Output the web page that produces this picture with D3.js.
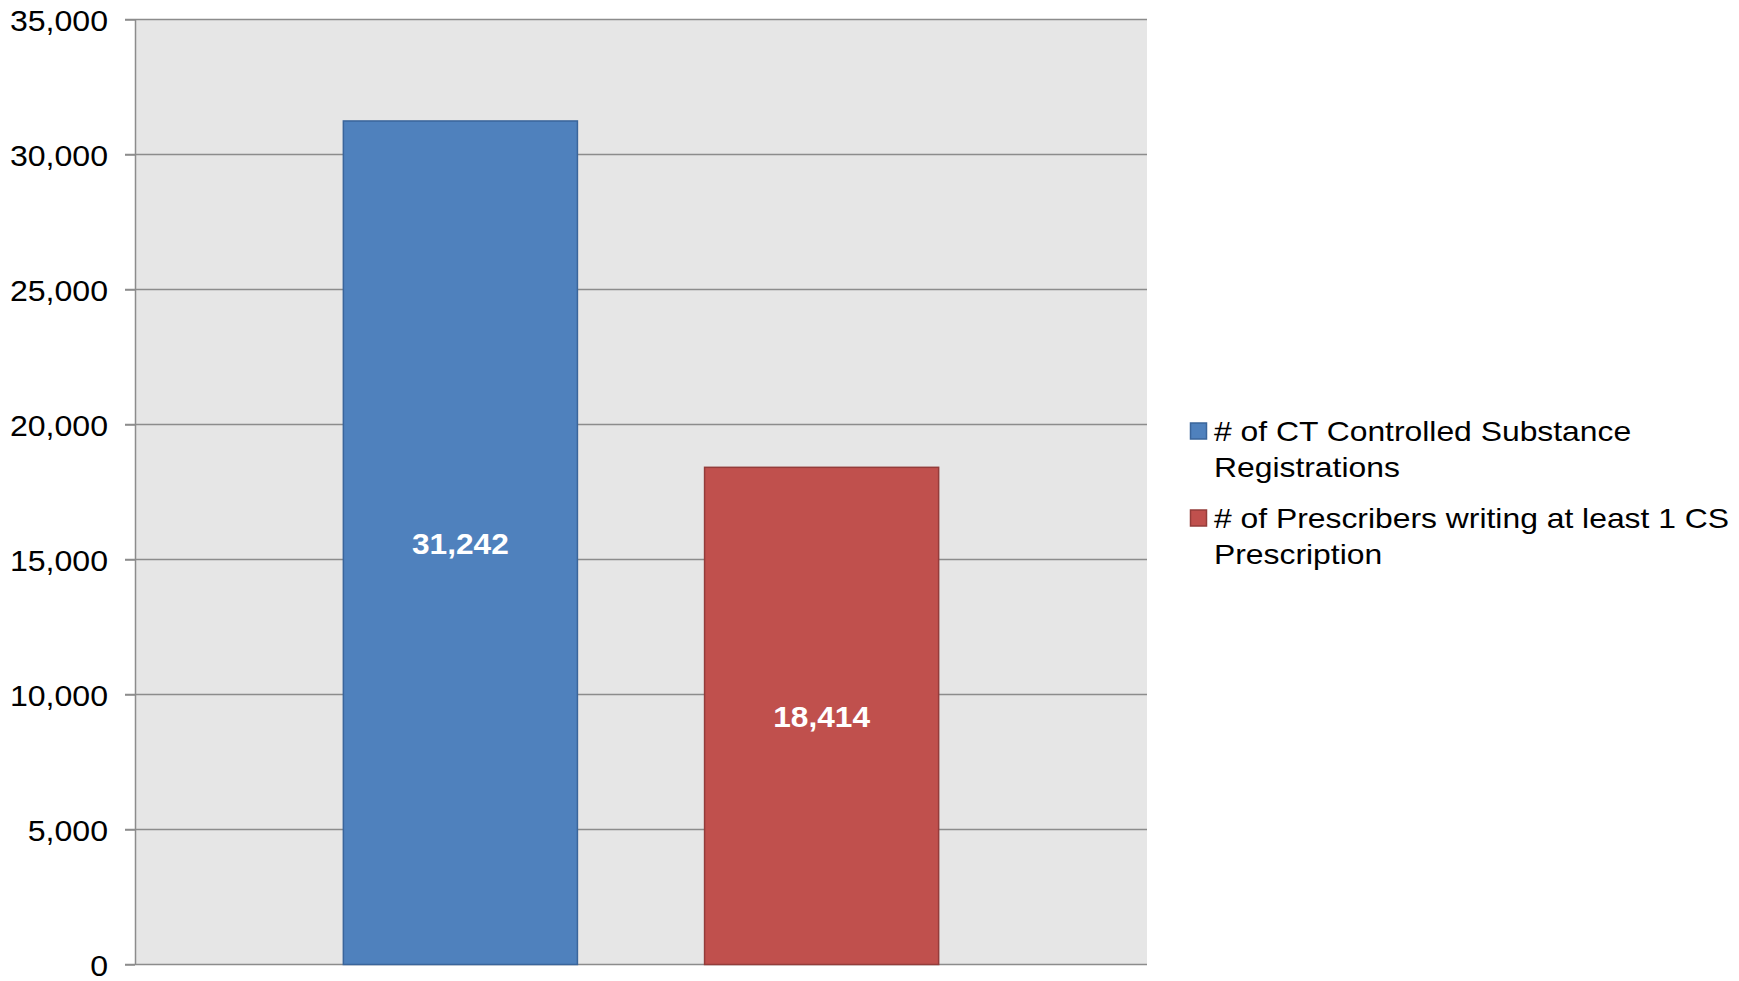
<!DOCTYPE html>
<html>
<head>
<meta charset="utf-8">
<script src="https://cdn.jsdelivr.net/npm/d3@7"></script>
<style>
  body { margin: 0; background: #fff; }
  text { font-family: "Liberation Sans", Arial, sans-serif; }
</style>
</head>
<body>
<div id="chart"></div>
<script>
// data
var categories = ["CT"];
var seriesNames = [
    "# of CT Controlled Substance Registrations",
    "# of Prescribers writing at least 1 CS Prescription"
];
var seriesValues = [31242, 18414];
var seriesColors = ["#4f81bd", "#c0504d"];
var seriesStrokes = ["#3a659b", "#943c3a"];
var legendLines = [
    ["# of CT Controlled Substance", "Registrations"],
    ["# of Prescribers writing at least 1 CS", "Prescription"]
];
var yTicks = [0, 5000, 10000, 15000, 20000, 25000, 30000, 35000];

var margin = { top: 19.5, right: 592, bottom: 16.5, left: 135 },
    width = 1739 - margin.left - margin.right,
    height = 981 - margin.top - margin.bottom;

var svg = d3
    .select("#chart")
    .append("svg")
    .attr("width", 1739)
    .attr("height", 981)
    .append("g")
    .attr("transform", "translate(" + margin.left + "," + margin.top + ")");

// plot background
svg.append("rect")
    .attr("width", width)
    .attr("height", height)
    .style("fill", "#e6e6e6");

var y = d3.scaleLinear().domain([0, 35000]).range([height, 0]);

var x0 = d3.scaleBand().domain(categories).range([0, width]).paddingInner(0).paddingOuter(0.35);
var x1 = d3.scaleBand().domain(seriesNames).range([0, x0.bandwidth()]).paddingInner(0.352).paddingOuter(0);

// gridlines
svg.append("g")
    .selectAll("line")
    .data(yTicks)
    .enter()
    .append("line")
    .attr("x1", -10)
    .attr("x2", width)
    .attr("y1", (d) => y(d))
    .attr("y2", (d) => y(d))
    .style("stroke", "#8c8c8c")
    .style("stroke-width", 1.5);

// y axis (reference text is slightly stretched horizontally)
var yAxis = svg.append("g")
    .call(d3.axisLeft(y).tickValues(yTicks).tickFormat(d3.format(",")).tickSizeInner(10).tickSizeOuter(0).tickPadding(20));
yAxis.select(".domain").style("stroke", "#8c8c8c").style("stroke-width", 1.5);
yAxis.selectAll(".tick line").style("stroke", "#8c8c8c").style("stroke-width", 1.5);
yAxis.selectAll(".tick text")
    .style("font-family", "'Liberation Sans', Arial, sans-serif")
    .style("font-size", "30px")
    .style("fill", "#000")
    .attr("x", 0)
    .attr("dy", "0.35em")
    .attr("transform", "translate(-27,0) scale(1.07,1)");

// bars
var bars = svg.append("g")
    .selectAll("g")
    .data(categories)
    .enter()
    .append("g")
    .attr("transform", (d) => "translate(" + x0(d) + ",0)");

var barData = seriesNames.map((name, i) => ({ name: name, value: seriesValues[i], i: i }));

bars.selectAll("rect")
    .data(barData)
    .enter()
    .append("rect")
    .attr("x", (d) => x1(d.name))
    .attr("y", (d) => y(d.value))
    .attr("width", x1.bandwidth())
    .attr("height", (d) => height - y(d.value))
    .style("fill", (d) => seriesColors[d.i])
    .style("stroke", (d) => seriesStrokes[d.i])
    .style("stroke-width", 1.5);

bars.selectAll(".label")
    .data(barData)
    .enter()
    .append("text")
    .attr("class", "label")
    .attr("transform", (d) => "translate(" + (x1(d.name) + x1.bandwidth() / 2) + "," + (y(d.value) + height) / 2 + ") scale(1.055,1)")
    .attr("dy", "0.36em")
    .attr("text-anchor", "middle")
    .style("font-size", "30px")
    .style("font-weight", "bold")
    .style("fill", "#fff")
    .text((d) => d3.format(",")(d.value));

// legend
var legend = svg.append("g")
    .attr("transform", "translate(" + (1190 - margin.left) + ",0)");

var items = legend.selectAll("g")
    .data(barData)
    .enter()
    .append("g")
    .attr("transform", (d, i) => "translate(0," + (441 - margin.top + i * 87) + ")");

items.append("rect")
    .attr("x", 0.5)
    .attr("y", -18)
    .attr("width", 16)
    .attr("height", 16)
    .style("fill", (d) => seriesColors[d.i])
    .style("stroke", (d) => seriesStrokes[d.i])
    .style("stroke-width", 1.5);

items.append("text")
    .attr("transform", "translate(24,0) scale(1.18,1)")
    .style("font-size", "27px")
    .style("fill", "#000")
    .selectAll("tspan")
    .data((d) => legendLines[d.i])
    .enter()
    .append("tspan")
    .attr("x", 0)
    .attr("y", (d, j) => j * 36.5)
    .text((d) => d);
</script>
</body>
</html>
